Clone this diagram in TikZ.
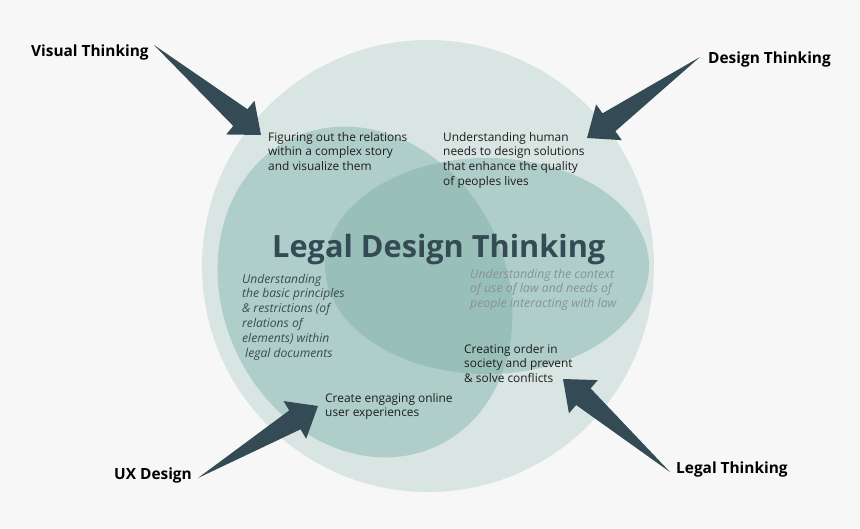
\documentclass[tikz,border=0pt]{standalone}
\usepackage{fontspec}
\setmainfont{Open Sans}
\usetikzlibrary{calc}

\definecolor{bgcol}{HTML}{F7F7F7}
\definecolor{outercol}{HTML}{D9E5E2}
\definecolor{midcol}{HTML}{B0CEC9}
\definecolor{darkcol}{HTML}{99C0B8}
\definecolor{slate}{HTML}{344A55}
\definecolor{notecol}{HTML}{1E1E1E}
\definecolor{leftcol}{HTML}{3A4A4F}
\definecolor{rightcol}{HTML}{869393}

% multi-line nodes sit on the baseline of their last line
\tikzset{
    note/.style={anchor=base west,align=left,inner sep=0pt,text=notecol,
        font=\fontsize{11.9}{14.7}\selectfont},
    aside/.style={note,font=\fontsize{12.1}{14.9}\selectfont\itshape},
    label/.style={anchor=base west,inner sep=0pt,text=black,
        font=\fontsize{15.4}{18}\selectfont\bfseries},
    fat/.style={fill=slate}
}

% fat arrow from tail #1 to tip #2
\newcommand{\fatarrow}[2]{%
    \coordinate (neck) at ($(#2)!27pt!(#1)$);
    \fill[fat] (#1) -- ($(neck)!11pt!90:(#1)$) -- ($(neck)!22pt!90:(#1)$) -- (#2)
        -- ($(neck)!22pt!-90:(#1)$) -- ($(neck)!11pt!-90:(#1)$) -- cycle;
}

\begin{document}
\begin{tikzpicture}[x=1pt,y=-1pt]
    \fill[bgcol] (0,0) rectangle (860,528);
    \useasboundingbox (0,0) rectangle (860,528);

    % sets
    \fill[outercol] (428,266) circle[radius=226pt];
    \fill[midcol,rotate around={25:(365,292)}] (365,292) ellipse[x radius=142pt,y radius=170pt];
    \fill[midcol] (487,266) ellipse[x radius=162pt,y radius=108pt];
    \begin{scope}
        \clip (487,266) ellipse[x radius=162pt,y radius=108pt];
        \fill[darkcol,rotate around={25:(365,292)}] (365,292) ellipse[x radius=142pt,y radius=170pt];
    \end{scope}

    % texts
    \node[anchor=base west,inner sep=0pt,text=slate,font=\fontsize{30.7}{34}\selectfont\bfseries]
        (title) at (272,257) {Legal Design Thinking};

    \node[note] (visual) at (268,170.4) {Figuring out the relations\\within a complex story\\and visualize them};
    \node[note] (design) at (443,185.1) {Understanding human\\needs to design solutions\\that enhance the quality\\of peoples lives};
    \node[note] (legal) at (464,382.4) {Creating order in\\society and prevent\\\& solve conflicts};
    \node[note] (ux) at (325,416.7) {Create engaging online\\user experiences};

    \node[aside,text=leftcol] (rules) at (242,357.5) {Understanding\\the basic principles\\\& restrictions (of\\relations of\\elements) within\\\hspace{3pt}legal documents};
    \node[aside,text=rightcol,font=\fontsize{12.3}{14.9}\selectfont\itshape] (context) at (470,307.8)
        {Understanding the context\\of use of law and needs of\\people interacting with law};

    \node[label] (vt) at (31,56) {Visual Thinking};
    \node[label] (dt) at (708,63) {Design Thinking};
    \node[label] (uxd) at (114,479) {UX Design};
    \node[label] (lt) at (676,473) {Legal Thinking};

    % arrows
    \coordinate (vt-tail) at (154,45);
    \coordinate (vt-tip) at (261,135);
    \coordinate (dt-tail) at (700,57);
    \coordinate (dt-tip) at (587,138);
    \coordinate (ux-tail) at (198,478);
    \coordinate (ux-tip) at (318,406);
    \coordinate (lt-tail) at (670,472);
    \coordinate (lt-tip) at (563,379);

    \fatarrow{vt-tail}{vt-tip}
    \fatarrow{dt-tail}{dt-tip}
    \fatarrow{ux-tail}{ux-tip}
    \fatarrow{lt-tail}{lt-tip}
\end{tikzpicture}
\end{document}
